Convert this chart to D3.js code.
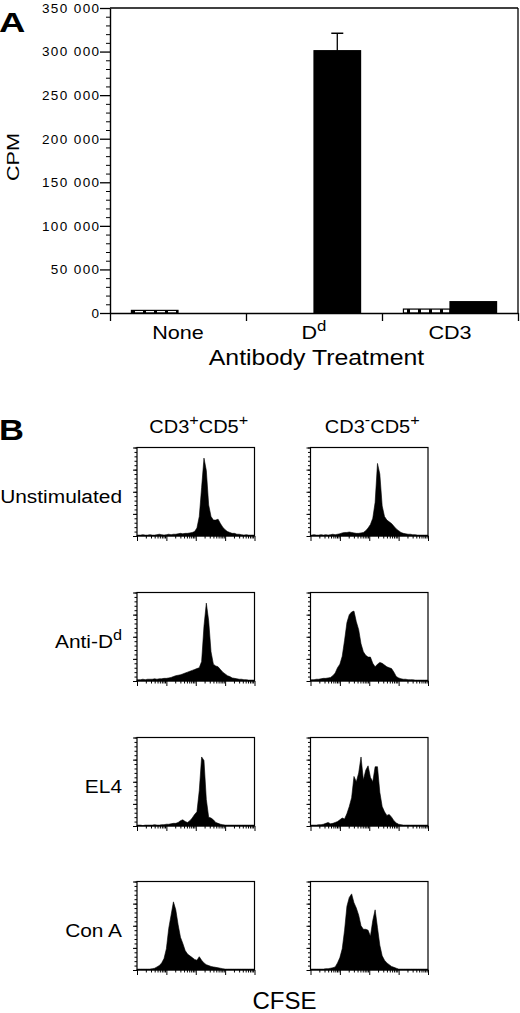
<!DOCTYPE html>
<html><head><meta charset="utf-8">
<script src="https://cdn.jsdelivr.net/npm/d3@7"></script>
<style>
body{margin:0;background:#fff}
svg{display:block}
text{font-family:"Liberation Sans",Arial,Helvetica,sans-serif;fill:#000}
</style>
</head><body>
<svg id="c" width="520" height="1013"></svg>
<script>
// ---------- Panel A data ----------
const categories = ["None", "D", "CD3"];
const categorySup = ["", "d", ""];
const seriesKeys = ["open", "filled"];
const openValues = [3000, 0, 4500];
const filledValues = [0, 301000, 13000];
const filledErrors = [0, 20000, 0];
const yTickValues = [0, 50000, 100000, 150000, 200000, 250000, 300000, 350000];

// ---------- Panel B data (CFSE histograms, % of max height, 50 bins) ----------
const rowLabels = ["Unstimulated", "Anti-D", "EL4", "Con A"];
const rowSup = ["", "d", "", ""];
const colLabels = [["CD3", "+", "CD5", "+"], ["CD3", "-", "CD5", "+"]];
const unstimCD3pos = [1,1,1.5,1,1,1.5,1,1,1.5,2,1.5,1,1.5,2,1.5,2,2,2.5,3,2.5,3,3,3.5,4,5,9,22,55,88,74,35,22,18,18,19,14,10,7,5,4,3,3,2,2,1.5,1,1.5,1,1,1];
const unstimCD3neg = [1,1.5,1,1,1.5,1,1.5,1,1.5,2,1.5,2,2.5,3.5,4,4,4.5,4,3.5,3,3,3.5,4,6,9,13,20,38,82,70,34,22,18,16,14,11,8,6,4,3,2.5,2,2,1.5,1.5,1,1,1,1,1];
const antiDCD3pos = [1.5,1.5,2,1.5,2,2,2,2.5,2,2.5,2.5,3,3,3.5,4,5,6,6.5,7,8,9,10,11,12,13,14,15,22,62,88,68,33,19,17,16,13,10,8,6,5,3.5,3,2.5,2,2,1.5,1.5,1,1,1];
const antiDCD3neg = [1.5,1.5,2,2,2.5,3,3,3.5,4,6,9,15,19,28,46,66,75,78,79,67,58,42,33,29,27,27,20,16,19,21,20,18,16,15,14,10,5,3.5,2.5,2,2,1.5,1.5,1.5,1,1,1,1,1,1];
const el4CD3pos = [1,1,0.5,1,1,1,1,1.5,1,1,1.5,1.5,2,2,2.5,3,3,4,6,7,5,4,6,9,13,16,40,78,74,30,10,9,7,4,3,2,1.5,1,1,1,1,1,1,1,1,1,1,1,1,1];
const el4CD3neg = [1,1,1,1.5,1.5,2,3,4,2.5,3,4,5,7,9,8,14,22,32,56,50,60,78,52,63,68,55,50,67,67,38,22,16,12,13,10,6,3.5,2,1.5,1,1,1,1,1,1,1,1,1,1,1];
const conACD3pos = [1,1,1,1,1,1,1.5,2,3.5,5,8,13,24,47,62,77,68,51,37,30,22,18,16,14,12,11,15,11,8,6,5,4,3.5,3,2.5,2,1.5,1,1,1,1,1,1,1,1,1,1,1,1,1];
const conACD3neg = [1,1,1,1,1,1,1.5,1.5,2,2.5,3.5,8,14,24,45,72,82,86,76,70,62,50,46,46,45,38,56,68,48,28,16,11,8,6,4,3,2,1,1,1,1,1,1,1,1,1,1,1,1,1];
const histGrid = [
  [unstimCD3pos, unstimCD3neg],
  [antiDCD3pos, antiDCD3neg],
  [el4CD3pos, el4CD3neg],
  [conACD3pos, conACD3neg]
];

const svg = d3.select("#c");

function addText(parent, x, y, parts, o) {
  const t = parent.append("text")
    .attr("transform", `translate(${x},${y})` + (o.rotate ? ` rotate(${o.rotate})` : "") + ` scale(${o.sx || 1},1)`)
    .attr("text-anchor", o.anchor || "start")
    .attr("font-size", o.size)
    .attr("font-weight", o.weight || "normal");
  let raised = 0;
  parts.forEach(p => {
    if (typeof p === "string") p = {t: p};
    const ts = t.append("tspan").text(p.t);
    if (p.sup) {
      ts.attr("font-size", p.size).attr("dy", -p.raise);
      raised = p.raise;
    } else if (raised) {
      ts.attr("dy", raised);
      raised = 0;
    }
  });
  return t;
}

// ================= Panel A =================
const A = {left: 110, right: 518, top: 8, bottom: 313};
const y = d3.scaleLinear().domain([0, 350000]).range([A.bottom, A.top]);
const xGroup = d3.scaleBand().domain(categories).range([A.left, A.right]).padding(0);
const xInner = d3.scaleBand().domain(seriesKeys).range([0, xGroup.bandwidth()]).paddingInner(0).paddingOuter(0.46);

const defs = svg.append("defs");
const pat = defs.append("pattern").attr("id", "dash").attr("patternUnits", "userSpaceOnUse")
  .attr("width", 11).attr("height", 11);
pat.append("rect").attr("width", 11).attr("height", 11).attr("fill", "#fff");
pat.append("rect").attr("width", 3).attr("height", 11).attr("fill", "#000");

const gA = svg.append("g");

// frame top/right
gA.append("line").attr("x1", A.left).attr("x2", A.right).attr("y1", A.top).attr("y2", A.top).attr("stroke", "#000").attr("stroke-width", 1.3);
gA.append("line").attr("x1", A.right).attr("x2", A.right).attr("y1", A.top).attr("y2", A.bottom).attr("stroke", "#000").attr("stroke-width", 1.3);

// bars
const barData = [];
categories.forEach((c, i) => {
  barData.push({cat: c, key: "open", v: openValues[i], e: 0});
  barData.push({cat: c, key: "filled", v: filledValues[i], e: filledErrors[i]});
});
gA.selectAll("rect.bar").data(barData.filter(d => d.v > 0)).join("rect")
  .attr("class", "bar")
  .attr("x", d => xGroup(d.cat) + xInner(d.key))
  .attr("width", xInner.bandwidth())
  .attr("y", d => y(d.v))
  .attr("height", d => y(0) - y(d.v))
  .attr("fill", d => d.key === "open" ? "url(#dash)" : "#000")
  .attr("stroke", "#000").attr("stroke-width", 1.2);

// error bars
barData.filter(d => d.e > 0).forEach(d => {
  const cx = xGroup(d.cat) + xInner(d.key) + xInner.bandwidth() / 2;
  gA.append("line").attr("x1", cx).attr("x2", cx).attr("y1", y(d.v)).attr("y2", y(d.v + d.e)).attr("stroke", "#000").attr("stroke-width", 1.3);
  gA.append("line").attr("x1", cx - 6).attr("x2", cx + 6).attr("y1", y(d.v + d.e)).attr("y2", y(d.v + d.e)).attr("stroke", "#000").attr("stroke-width", 1.5);
});

// y axis
const fmt = d => d3.format(",")(d).replace(/,/g, " ");
const yAx = gA.append("g").attr("transform", `translate(${A.left},0)`)
  .call(d3.axisLeft(y).tickValues(yTickValues).tickSize(10).tickSizeOuter(0).tickFormat(fmt));
yAx.select(".domain").attr("stroke-width", 1.4);
yAx.selectAll(".tick line").attr("stroke-width", 1.3);
yAx.selectAll(".tick text").attr("font-size", 13.5)
  .attr("x", -9.5).style("letter-spacing", "1.4px");
const minorVals = d3.range(0, 350001, 10000).filter(v => v % 50000 !== 0);
const yMin = gA.append("g").attr("transform", `translate(${A.left},0)`)
  .call(d3.axisLeft(y).tickValues(minorVals).tickSize(4).tickFormat(""));
yMin.select(".domain").remove();

// x axis
const xEdge = d3.scaleLinear().domain([0, categories.length]).range([A.left, A.right]);
const xAx = gA.append("g").attr("transform", `translate(0,${A.bottom})`)
  .call(d3.axisBottom(xEdge).tickValues(d3.range(0, categories.length + 1)).tickSize(8).tickSizeOuter(0).tickFormat(""));
xAx.select(".domain").attr("stroke-width", 1.4);
xAx.selectAll(".tick line").attr("stroke-width", 1.3);

// category labels
categories.forEach((c, i) => {
  const parts = [c];
  if (categorySup[i]) parts.push({t: categorySup[i], sup: true, size: 14, raise: 8});
  addText(gA, xGroup(c) + xGroup.bandwidth() / 2, 339, parts, {size: 18, sx: 1.2, anchor: "middle"});
});
addText(gA, 316.5, 365, ["Antibody Treatment"], {size: 22, sx: 1.13, anchor: "middle"});
addText(gA, 18.5, 157, ["CPM"], {size: 17, sx: 1.27, anchor: "middle", rotate: -90});
addText(gA, -1, 32, ["A"], {size: 27, sx: 1.35, weight: "bold"});

// ================= Panel B =================
const gB = svg.append("g");
addText(gB, -1, 440, ["B"], {size: 30, sx: 1.15, weight: "bold"});

const colX = [137, 310.5];
const boxW = 117.5;
const rowY = [447.5, 592.5, 737.5, 881.5];
const boxH = 88.5;

// column headers
colLabels.forEach((parts, ci) => {
  const cx = colX[ci] + boxW / 2 + 3;
  addText(gB, cx, 432.5, [
    parts[0],
    {t: parts[1], sup: true, size: 15, raise: 8},
    parts[2],
    {t: parts[3], sup: true, size: 15, raise: 8}
  ], {size: 18.5, sx: 1.08, anchor: "middle"});
});

// row labels
rowLabels.forEach((lab, ri) => {
  const parts = [lab];
  if (rowSup[ri]) parts.push({t: rowSup[ri], sup: true, size: 14, raise: 8});
  addText(gB, 122, rowY[ri] + boxH / 2 + 11.5, parts, {size: 18, sx: 1.16, anchor: "end"});
});

histGrid.forEach((row, ri) => {
  row.forEach((vals, ci) => {
    const x0 = colX[ci], y0 = rowY[ri];
    const g = gB.append("g");
    const xb = d3.scaleLinear().domain([-0.5, vals.length - 0.5]).range([x0, x0 + boxW]);
    const yb = d3.scaleLinear().domain([0, 100]).range([y0 + boxH, y0]);
    const pts = [{i: -0.5, v: vals[0]}].concat(vals.map((v, i) => ({i, v}))).concat([{i: vals.length - 0.5, v: vals[vals.length - 1]}]);
    g.append("path").datum(pts)
      .attr("d", d3.area().x(d => xb(d.i)).y0(yb(0)).y1(d => yb(d.v)))
      .attr("fill", "#000").attr("stroke", "#000").attr("stroke-width", 0.6);
    // frame
    g.append("rect").attr("x", x0).attr("y", y0).attr("width", boxW).attr("height", boxH)
      .attr("fill", "none").attr("stroke", "#000").attr("stroke-width", 1.2);
    // y ticks
    const yMinor = g.append("g").attr("transform", `translate(${x0},0)`)
      .call(d3.axisLeft(yb).tickValues(d3.range(0, 101, 5)).tickSize(2.5).tickFormat(""));
    yMinor.select(".domain").remove();
    const yMaj = g.append("g").attr("transform", `translate(${x0},0)`)
      .call(d3.axisLeft(yb).tickValues(d3.range(0, 101, 25)).tickSize(4).tickFormat(""));
    yMaj.select(".domain").remove();
    // x log ticks
    const xl = d3.scaleLog().domain([1, 10000]).range([x0, x0 + boxW]);
    const all = xl.ticks();
    const majors = all.filter(v => Math.abs(Math.log10(v) - Math.round(Math.log10(v))) < 1e-9);
    const minors = all.filter(v => !majors.includes(v));
    const xMin = g.append("g").attr("transform", `translate(0,${y0 + boxH})`)
      .call(d3.axisBottom(xl).tickValues(minors).tickSize(2.5).tickFormat(""));
    xMin.select(".domain").remove();
    const xMaj = g.append("g").attr("transform", `translate(0,${y0 + boxH})`)
      .call(d3.axisBottom(xl).tickValues(majors).tickSize(5).tickFormat(""));
    xMaj.select(".domain").remove();
    g.selectAll(".tick line").attr("stroke-width", 1);
  });
});

addText(gB, 284.5, 1009, ["CFSE"], {size: 24, sx: 1.0, anchor: "middle"});
</script>
</body></html>
